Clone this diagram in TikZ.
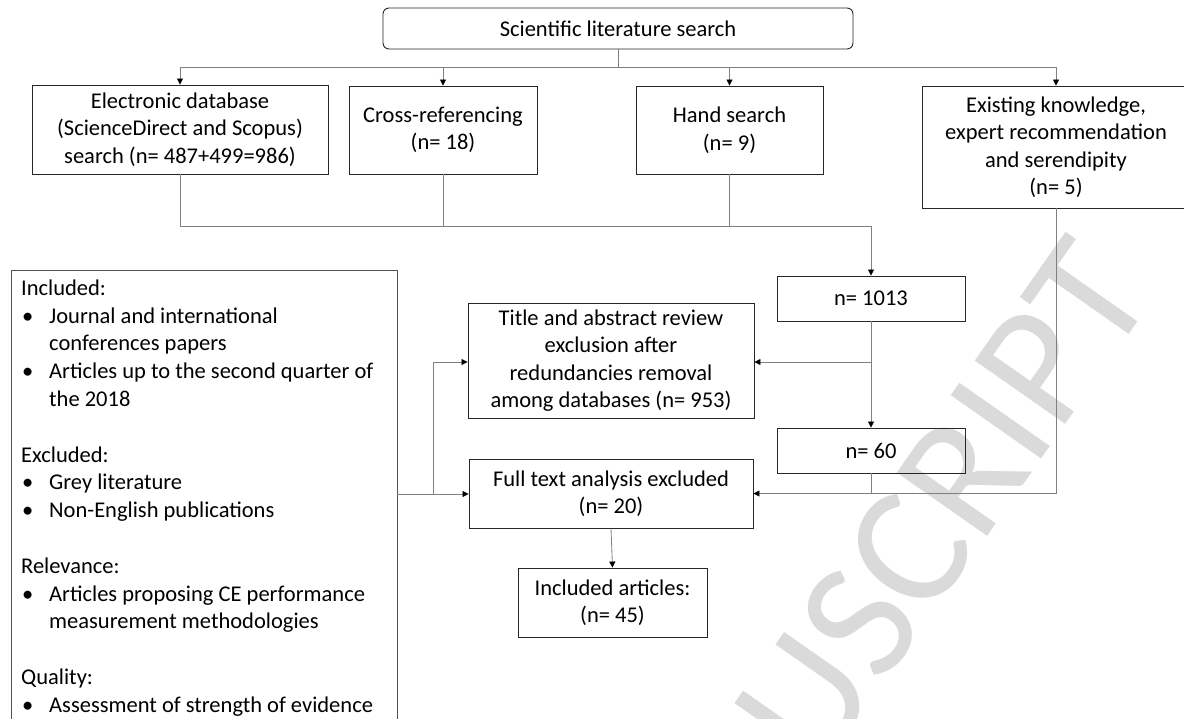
\documentclass[tikz,border=0pt]{standalone}
\usepackage{fontspec}
\setmainfont{Carlito}
\usetikzlibrary{arrows.meta}
\definecolor{boxline}{HTML}{262626}
\definecolor{connc}{HTML}{808080}
\definecolor{wmc}{HTML}{DADADA}
\newcommand\bul{\makebox[28pt][l]{\hspace{1pt}•}}
\newcommand\ind{\hspace*{28pt}}
\begin{document}
\begin{tikzpicture}[x=1pt,y=-1pt,
  box/.style={draw=boxline, line width=0.9pt, inner sep=0pt, align=center,
    font=\fontsize{22.5}{27.5}\selectfont},
  conn/.style={draw=connc, line width=0.8pt},
  arr/.style={conn, -{Triangle[length=6pt,width=6pt,color=black]}}]
\useasboundingbox (0,0) rectangle (1184,718);
% watermark
\node[rotate=55, anchor=east, inner sep=0pt, text=wmc,
  font=\fontsize{172}{172}\selectfont] (wmk) at (1112,262) {ACCEPTED MANUSCRIPT};
% nodes
\node[box, rounded corners=6pt, minimum width=470pt, minimum height=41pt] (top) at (618,28.5) {Scientific literature search};
\node[box, minimum width=296pt, minimum height=89pt] (elec) at (180,129.5) {Electronic database\\(ScienceDirect and Scopus)\\search (n= 487+499=986)};
\node[box, minimum width=188pt, minimum height=88pt] (cross) at (443,130) {Cross-referencing\\(n= 18)};
\node[box, minimum width=187pt, minimum height=88pt] (hand) at (729.5,130) {Hand search\\(n= 9)};
\node[box, minimum width=268pt, minimum height=122pt] (exist) at (1056,147) {Existing knowledge,\\expert recommendation\\and serendipity\\(n= 5)};
\node[box, minimum width=188pt, minimum height=45pt] (n1013) at (871,298.5) {n= 1013};
\node[box, minimum width=188pt, minimum height=45pt] (n60) at (871,450.5) {n= 60};
\node[box, minimum width=286pt, minimum height=115pt] (title) at (611,360.5) {Title and abstract review\\exclusion after\\redundancies removal\\among databases (n= 953)};
\node[box, minimum width=284pt, minimum height=69pt] (full) at (611,493.5) {Full text analysis excluded\\(n= 20)};
\node[box, minimum width=189pt, minimum height=69pt] (incl) at (612.5,602.5) {Included articles:\\(n= 45)};
\node[draw=boxline!80, line width=0.9pt, inner sep=0pt, minimum width=386pt, minimum height=470pt] (crit) at (204,505) {};
\node[anchor=north west, inner sep=0pt, align=left, font=\fontsize{22.5}{27.8}\selectfont] (crittext) at (21,279.5)
{Included:\\
\bul Journal and international\\
\ind conferences papers\\
\bul Articles up to the second quarter of\\
\ind the 2018\\[27.8pt]
Excluded:\\
\bul Grey literature\\
\bul Non-English publications\\[27.8pt]
Relevance:\\
\bul Articles proposing CE performance\\
\ind measurement methodologies\\[27.8pt]
Quality:\\
\bul Assessment of strength of evidence};
% coordinates
\coordinate (br) at (618,67);
\coordinate (join) at (871,226);
\coordinate (b2) at (871,362);
\coordinate (b3) at (871,493.5);
\coordinate (lb) at (433,494);
% connectors
\draw[conn] (top.south) -- (br);
\draw[arr] (br) -| (elec.north);
\draw[arr] (br) -| (cross.north);
\draw[arr] (br) -| (hand.north);
\draw[arr] (br) -| (exist.north);
\draw[conn] (elec.south) |- (join);
\draw[conn] (cross.south) |- (join);
\draw[conn] (hand.south) |- (join);
\draw[arr] (join) -- (n1013.north);
\draw[arr] (n1013.south) -- (n60.north);
\draw[arr] (b2) -- (title.east |- b2);
\draw[arr] (n60.south) |- (full.east);
\draw[conn] (exist.south) |- (b3);
\draw[conn] (crit.east |- lb) -- (lb);
\draw[arr] (lb) -- (full.west |- lb);
\draw[arr] (lb) |- (title.west |- b2);
\draw[arr] (full.south) -- (incl.north);
\end{tikzpicture}
\end{document}
